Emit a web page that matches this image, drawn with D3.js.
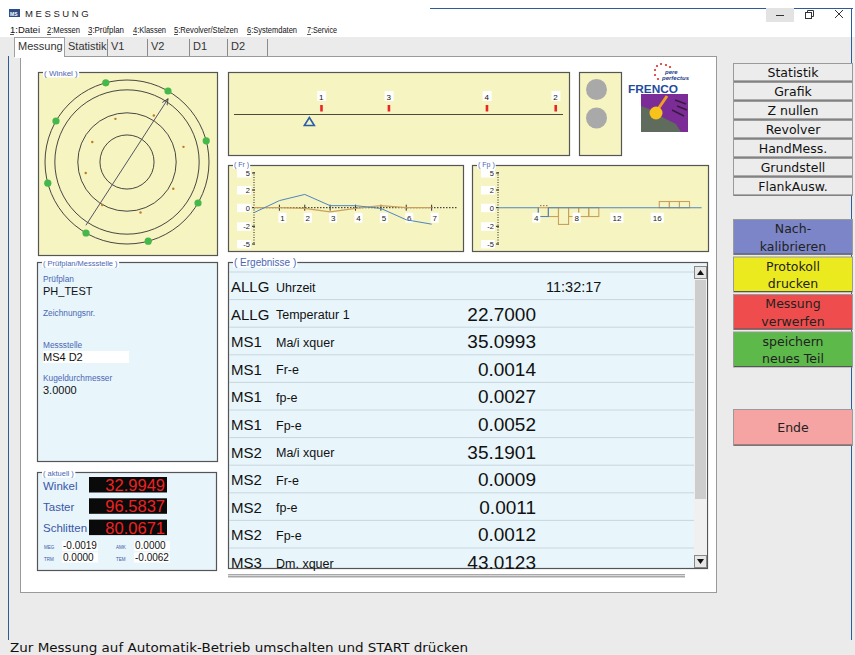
<!DOCTYPE html>
<html>
<head>
<meta charset="utf-8">
<script src="https://cdn.jsdelivr.net/npm/d3@7"></script>
<style>
body { margin: 0; background: #fff; }
svg { display: block; }
</style>
</head>
<body>
<script>
// window chrome
const menuItems = ["1:Datei", "2:Messen", "3:Prüfplan", "4:Klassen", "5:Revolver/Stelzen", "6:Systemdaten", "7:Service"];
const menuX = [10, 47, 88, 133, 174, 247, 307];
const menuW = [30, 33, 36, 33, 64, 50, 30];
const tabs = ["Messung", "Statistik", "V1", "V2", "D1", "D2"];
const tabEdges = [15, 65, 108, 148, 190, 228, 268];
const toolButtons = ["Statistik", "Grafik", "Z nullen", "Revolver", "HandMess.", "Grundstell", "FlankAusw."];
const actionButtons = [["Nach-", "kalibrieren"], ["Protokoll", "drucken"], ["Messung", "verwerfen"], ["speichern", "neues Teil"]];
const actionColors = ["#7b85c7", "#ebea1e", "#ef4d4d", "#5cb94a"];

// Winkel (polar) view
const ringLevels = [33, 60, 88, 100];
const probeAngles = [15, 60, 105, 150, 195, 240, 285, 330];
const probeDev = [11.3, 5.4, -5.5, -11.1, -7.9, 0.5, 3.7, 5.2];
const arrowAngle = 57;

// strip with probe positions
const stripLabels = ["1", "3", "4", "2"];
const stripPos = [26.5, 47, 76.8, 97.7];
const stripMarker = 22.9;

// Fr / Fp charts
const yTicks = [5, 2, 0, -2, -5];
const frX = [0, 1, 2, 3, 4, 5, 6, 7];
const frBlue = [-0.53, 0.8, 1.5, 0.23, 0.23, -0.08, -1.3, -1.77];
const frTan = [0, 0, -0.07, -0.45, -0.07, 0.23, 0, 0];
const fpTicks = [4, 8, 12, 16];
const fpBlueBars = [[4, -0.95]];
const fpTanBars = [[4, -0.95], [5, -0.95], [6, -1.8], [7, -0.95], [8, -0.95], [9, -0.95], [16, 0.7], [17, 0.7], [18, 0.7]];

// Ergebnisse table
const resGroup = ["ALLG", "ALLG", "MS1", "MS1", "MS1", "MS1", "MS2", "MS2", "MS2", "MS2", "MS3"];
const resName = ["Uhrzeit", "Temperatur 1", "Ma/i xquer", "Fr-e", "fp-e", "Fp-e", "Ma/i xquer", "Fr-e", "fp-e", "Fp-e", "Dm. xquer"];
const resValue = ["11:32:17", "22.7000", "35.0993", "0.0014", "0.0027", "0.0052", "35.1901", "0.0009", "0.0011", "0.0012", "43.0123"];

// Prüfplan / aktuell
const pruefLabels = ["Prüfplan", "Zeichnungsnr.", "Messstelle", "Kugeldurchmesser"];
const pruefValues = ["PH_TEST", "", "MS4 D2", "3.0000"];
const aktLabels = ["Winkel", "Taster", "Schlitten"];
const aktValues = ["32.9949", "96.5837", "80.0671"];
const smallLabels = ["MEG", "AMK", "TRM", "TEM"];
const smallValues = ["-0.0019", "0.0000", "0.0000", "-0.0062"];
const statusText = "Zur Messung auf Automatik-Betrieb umschalten und START drücken";

const SANS = "'Liberation Sans', Arial, sans-serif";
const UI = "'DejaVu Sans', Verdana, sans-serif";
const YELLOW = "#f6f4c0";
const LBLUE = "#e8f5fb";
const LEG = "#4a67b4";

const svg = d3.select("body").append("svg")
    .attr("width", 855)
    .attr("height", 655);

// background
svg.append("rect").attr("width", 855).attr("height", 655).attr("fill", "#ebebeb");
svg.append("rect").attr("width", 855).attr("height", 37).attr("fill", "#fff");
svg.append("line").attr("x1", 430).attr("x2", 853).attr("y1", 8.5).attr("y2", 8.5).attr("stroke", "#2c5d9a");
svg.append("line").attr("x1", 8.5).attr("x2", 8.5).attr("y1", 56).attr("y2", 640).attr("stroke", "#2c5d9a");
svg.append("line").attr("x1", 851.5).attr("x2", 851.5).attr("y1", 8).attr("y2", 640).attr("stroke", "#2c5d9a");

// title bar
svg.append("rect").attr("x", 9).attr("y", 9).attr("width", 11).attr("height", 8).attr("fill", "#2d4d8a");
svg.append("text").attr("x", 10).attr("y", 15.5).attr("font-size", 5).attr("fill", "#fff")
    .attr("font-family", SANS).attr("font-weight", "bold").text("MS");
svg.append("text").attr("x", 25).attr("y", 17).attr("font-size", 9.5).attr("letter-spacing", 2.6)
    .attr("font-family", SANS).attr("fill", "#222").text("MESSUNG");
svg.append("rect").attr("x", 766).attr("y", 8).attr("width", 28).attr("height", 14).attr("fill", "#e3e3e3");
svg.append("line").attr("x1", 776).attr("x2", 784).attr("y1", 15.5).attr("y2", 15.5).attr("stroke", "#333");
svg.append("rect").attr("x", 805.5).attr("y", 12.5).attr("width", 6).attr("height", 6).attr("fill", "none").attr("stroke", "#333");
svg.append("path").attr("d", "M807.5,12.5V10.5H813.5V16.5H811.5").attr("fill", "none").attr("stroke", "#333");
svg.append("path").attr("d", "M835,10L843,18M843,10L835,18").attr("stroke", "#333");

// menu
const menuG = svg.append("g");
menuItems.forEach((m, i) => {
    menuG.append("text").attr("x", menuX[i]).attr("y", 33)
        .attr("font-size", 9).attr("font-family", SANS).attr("fill", "#111")
        .attr("textLength", menuW[i]).attr("lengthAdjust", "spacingAndGlyphs")
        .text(m);
    menuG.append("line").attr("x1", menuX[i]).attr("x2", menuX[i] + 4).attr("y1", 34.5).attr("y2", 34.5)
        .attr("stroke", "#111").attr("stroke-width", 0.7);
});

// tabs
const tabG = svg.append("g");
tabG.append("rect").attr("x", 14.5).attr("y", 37.5).attr("width", 50).attr("height", 19).attr("fill", "#fff")
    .attr("stroke", "#a0a0a0");
tabs.forEach((t, i) => {
    if (i > 0) {
        tabG.append("line").attr("x1", tabEdges[i + 1] - 0.5).attr("x2", tabEdges[i + 1] - 0.5)
            .attr("y1", 39).attr("y2", 56).attr("stroke", "#8a8a8a");
    }
    tabG.append("text").attr("x", tabEdges[i] + 3).attr("y", 50)
        .attr("font-size", 11).attr("font-family", SANS).attr("fill", "#333").text(t);
});

// main white panel
svg.append("rect").attr("x", 20.5).attr("y", 56.5).attr("width", 696).attr("height", 536)
    .attr("fill", "#fff").attr("stroke", "#9a9a9a");
svg.append("rect").attr("x", 15).attr("y", 55).attr("width", 49).attr("height", 3).attr("fill", "#fff");

function panel(x, y, w, h, fill, legend, legSize, legY) {
    const g = svg.append("g").attr("transform", `translate(${x},${y})`);
    g.append("rect").attr("x", 0.5).attr("y", 0.5).attr("width", w).attr("height", h)
        .attr("fill", fill).attr("stroke", "#555").attr("stroke-width", 1.2);
    if (legend) {
        const t = g.append("text").attr("x", 6).attr("y", legY == null ? 3.5 : legY)
            .attr("font-size", legSize || 8).attr("font-family", SANS).attr("fill", LEG).text(legend);
        const bb = t.node().getBBox();
        g.insert("rect", "text").attr("x", bb.x - 1).attr("y", bb.y).attr("width", bb.width + 2)
            .attr("height", bb.height).attr("fill", "#fff");
    }
    return g;
}

// ---- Winkel panel ----
const wk = panel(38, 72, 179, 183, YELLOW, "( Winkel )");
const cx = 127 - 38, cy = 162 - 72;
const r = d3.scaleLinear().domain([0, 100]).range([0, 82]);
const polar = (ang, v) => [cx + r(v) * Math.cos(ang * Math.PI / 180), cy - r(v) * Math.sin(ang * Math.PI / 180)];
wk.selectAll("circle.ring").data(ringLevels).join("circle").attr("class", "ring")
    .attr("cx", cx).attr("cy", cy).attr("r", d => r(d))
    .attr("fill", "none").attr("stroke", "#333").attr("stroke-width", 0.9);
wk.append("defs").append("marker").attr("id", "ah").attr("viewBox", "0 0 10 10")
    .attr("refX", 9).attr("refY", 5).attr("markerWidth", 7).attr("markerHeight", 7).attr("orient", "auto")
    .append("path").attr("d", "M0,1L9,5L0,9").attr("fill", "none").attr("stroke", "#444").attr("stroke-width", 1.2);
const a0 = polar(arrowAngle + 180, 92), a1 = polar(arrowAngle, 92);
wk.append("line").attr("x1", a0[0]).attr("y1", a0[1]).attr("x2", a1[0]).attr("y2", a1[1])
    .attr("stroke", "#556").attr("stroke-width", 1).attr("marker-end", "url(#ah)");
wk.selectAll("circle.probe").data(probeAngles).join("circle").attr("class", "probe")
    .attr("cx", d => polar(d, 100)[0]).attr("cy", d => polar(d, 100)[1]).attr("r", 3.6)
    .attr("fill", "#44b84a");
wk.selectAll("circle.dev").data(probeAngles).join("circle").attr("class", "dev")
    .attr("cx", (d, i) => polar(d, 60 + probeDev[i])[0]).attr("cy", (d, i) => polar(d, 60 + probeDev[i])[1])
    .attr("r", 1.2).attr("fill", "#c47a1e");

// ---- strip panel ----
const st = panel(228, 72, 341, 83, YELLOW);
const sx = d3.scaleLinear().domain([0, 100]).range([6, 335]);
st.append("line").attr("x1", sx(0)).attr("x2", sx(100)).attr("y1", 42.5).attr("y2", 42.5)
    .attr("stroke", "#4a4a3a").attr("stroke-width", 1.2);
stripPos.forEach((p, i) => {
    st.append("rect").attr("x", sx(p) - 4).attr("y", 19).attr("width", 9).attr("height", 10).attr("fill", "#fff");
    st.append("text").attr("x", sx(p)).attr("y", 27.5).attr("text-anchor", "middle")
        .attr("font-size", 8).attr("font-family", SANS).attr("fill", "#111").text(stripLabels[i]);
    st.append("rect").attr("x", sx(p) - 1).attr("y", 33).attr("width", 2.6).attr("height", 6.5).attr("fill", "#e8262a");
});
st.append("path").attr("d", `M${sx(stripMarker)},45.5L${sx(stripMarker) + 5},53.5L${sx(stripMarker) - 5},53.5Z`)
    .attr("fill", "none").attr("stroke", "#2a5ea8").attr("stroke-width", 1.6);

// ---- lamp panel ----
const lp = panel(579, 72, 42, 83, YELLOW);
lp.selectAll("circle").data([0, 1]).join("circle")
    .attr("cx", 17.5).attr("cy", d => 17.5 + d * 28.5).attr("r", 10.5).attr("fill", "#a9a9a9");

// ---- logo ----
const lg = svg.append("g");
[[655, 70], [657, 66], [661, 64], [666, 65], [655, 75], [658, 79], [670, 67]].forEach(p =>
    lg.append("circle").attr("cx", p[0]).attr("cy", p[1]).attr("r", 1.1).attr("fill", "#e02a2a"));
lg.append("text").attr("x", 665).attr("y", 74).attr("font-size", 6).attr("font-style", "italic")
    .attr("font-weight", "bold").attr("font-family", SANS).attr("fill", "#233d8c").text("pere");
lg.append("text").attr("x", 662).attr("y", 80).attr("font-size", 6).attr("font-style", "italic")
    .attr("font-weight", "bold").attr("font-family", SANS).attr("fill", "#233d8c").text("perfectus");
lg.append("text").attr("x", 628).attr("y", 93).attr("font-size", 10).attr("font-weight", "bold")
    .attr("textLength", 50).attr("lengthAdjust", "spacingAndGlyphs")
    .attr("font-family", SANS).attr("fill", "#1f4aa0").text("FRENCO");
lg.append("rect").attr("x", 641).attr("y", 94).attr("width", 47).attr("height", 38).attr("fill", "#7b2c96");
lg.append("path").attr("d", "M641,106L652,110L664,118L676,124L681,132L641,132Z").attr("fill", "#5f6b5d");
lg.append("path").attr("d", "M675,100L686,104M677,106L687,110M672,110L684,116").attr("stroke", "#3a1a40").attr("stroke-width", 1.5);
lg.append("line").attr("x1", 656).attr("y1", 112).attr("x2", 667).attr("y2", 96)
    .attr("stroke", "#f0a020").attr("stroke-width", 3);
lg.append("circle").attr("cx", 656).attr("cy", 113).attr("r", 6.5).attr("fill", "#f7c21b");

// ---- Fr / Fp charts ----
const y = d3.scaleLinear().domain([-5, -2, 0, 2, 5]).range([79, 61.3, 42.7, 25, 8]);

function yAxis(g, x0) {
    g.append("line").attr("x1", x0).attr("x2", x0).attr("y1", y(5) - 1).attr("y2", y(-5) + 1)
        .attr("stroke", "#222").attr("stroke-dasharray", "1,1.5");
    yTicks.forEach(t => {
        g.append("rect").attr("x", x0 - 17).attr("y", y(t) - 4).attr("width", 14).attr("height", 8.5).attr("fill", "#fff");
        g.append("line").attr("x1", x0 - 2).attr("x2", x0 + 1).attr("y1", y(t)).attr("y2", y(t)).attr("stroke", "#222");
        g.append("text").attr("x", x0 - 4).attr("y", y(t) + 3).attr("text-anchor", "end")
            .attr("font-size", 7.5).attr("font-family", SANS).attr("fill", "#222").text(t);
    });
}

const fr = panel(228, 165, 235, 86, YELLOW, "( Fr )", 7, 2);
const frx = d3.scaleLinear().domain([0, 8]).range([26, 229]);
yAxis(fr, frx(0));
fr.append("line").attr("x1", frx(0)).attr("x2", frx(8)).attr("y1", y(0)).attr("y2", y(0))
    .attr("stroke", "#222").attr("stroke-dasharray", "1.5,1.5");
frX.slice(1).forEach(d => {
    fr.append("line").attr("x1", frx(d)).attr("x2", frx(d)).attr("y1", y(0) - 3).attr("y2", y(0) + 3).attr("stroke", "#333");
    fr.append("rect").attr("x", frx(d) - 1).attr("y", y(0) + 5).attr("width", 8).attr("height", 10).attr("fill", "#fff");
    fr.append("text").attr("x", frx(d) + 3).attr("y", y(0) + 13).attr("text-anchor", "middle")
        .attr("font-size", 8).attr("font-family", SANS).attr("fill", "#222").text(d);
});
const frLine = d3.line().x((d, i) => frx(frX[i])).y(d => y(d));
fr.append("path").attr("d", frLine(frTan)).attr("fill", "none").attr("stroke", "#c9a05c").attr("stroke-width", 1.2);
fr.append("path").attr("d", frLine(frBlue)).attr("fill", "none").attr("stroke", "#4d86c0").attr("stroke-width", 1);

const fp = panel(472, 165, 236, 86, YELLOW, "( Fp )", 7, 2);
const fpx = d3.scaleLinear().domain([0, 20]).range([26, 227.6]);
yAxis(fp, fpx(0));
fpTanBars.forEach(b => {
    fp.append("rect").attr("x", fpx(b[0])).attr("width", fpx(b[0] + 1) - fpx(b[0]))
        .attr("y", Math.min(y(0), y(b[1]))).attr("height", Math.abs(y(b[1]) - y(0)))
        .attr("fill", "none").attr("stroke", "#c9a05c").attr("stroke-width", 1.1);
});
let bp = `M${fpx(0)},${y(0)}`;
fpBlueBars.forEach(b => {
    bp += `L${fpx(b[0])},${y(0)}L${fpx(b[0])},${y(b[1])}L${fpx(b[0] + 1)},${y(b[1])}L${fpx(b[0] + 1)},${y(0)}`;
});
bp += `L${fpx(20) + 2},${y(0)}`;
fp.append("path").attr("d", bp).attr("fill", "none").attr("stroke", "#4d86c0").attr("stroke-width", 1.1);
fp.append("line").attr("x1", fpx(4) + 2).attr("x2", fpx(5) - 1).attr("y1", y(0) - 2).attr("y2", y(0) - 2)
    .attr("stroke", "#333").attr("stroke-dasharray", "1,2");
fpTicks.forEach(t => {
    const w = String(t).length * 5 + 3;
    fp.append("rect").attr("x", fpx(t) - 2 - w / 2).attr("y", y(0) + 5).attr("width", w).attr("height", 10).attr("fill", "#fff");
    fp.append("text").attr("x", fpx(t) - 2).attr("y", y(0) + 13).attr("text-anchor", "middle")
        .attr("font-size", 8).attr("font-family", SANS).attr("fill", "#222").text(t);
});

// ---- Prüfplan/Messstelle ----
const pp = panel(37, 262, 180, 199, LBLUE, "( Prüfplan/Messstelle )", 7.5);
const pY = [20, 54, 86, 119];
pruefLabels.forEach((l, i) => {
    pp.append("text").attr("x", 6).attr("y", pY[i]).attr("font-size", 8.3).attr("font-family", SANS)
        .attr("fill", LEG).text(l);
    if (i === 2) pp.append("rect").attr("x", 6).attr("y", pY[i] + 3).attr("width", 86).attr("height", 12).attr("fill", "#fff");
    pp.append("text").attr("x", 6).attr("y", pY[i] + 12.5).attr("font-size", 11).attr("font-family", SANS)
        .attr("fill", "#111").text(pruefValues[i]);
});

// ---- aktuell ----
const ak = panel(37, 472, 179, 98, LBLUE, "( aktuell )", 7.5);
aktLabels.forEach((l, i) => {
    const yy = 13 + i * 21.3;
    ak.append("text").attr("x", 6).attr("y", yy + 4.5).attr("font-size", 11.5).attr("font-family", SANS)
        .attr("fill", "#3b57a8").text(l);
    ak.append("rect").attr("x", 52).attr("y", yy - 8).attr("width", 78).attr("height", 15.5).attr("fill", "#0a0a0a");
    ak.append("text").attr("x", 128).attr("y", yy + 6).attr("text-anchor", "end").attr("font-size", 16.5)
        .attr("font-family", SANS).attr("fill", "#ee2222").text(aktValues[i]);
});
smallLabels.forEach((l, i) => {
    const col = i % 2, row = Math.floor(i / 2);
    const bx = 7 + col * 72, by = 77 + row * 11.5;
    ak.append("text").attr("x", bx).attr("y", by).attr("font-size", 4.5).attr("font-family", SANS)
        .attr("fill", "#3b57a8").text(l);
    ak.append("rect").attr("x", bx + 18).attr("y", by - 8).attr("width", 36).attr("height", 10).attr("fill", "#fff");
    ak.append("text").attr("x", bx + 19).attr("y", by).attr("font-size", 10).attr("font-family", SANS)
        .attr("fill", "#111").text(smallValues[i]);
});

// ---- Ergebnisse ----
const er = panel(228, 262, 479, 306, LBLUE, "( Ergebnisse )", 10);
const rowY = d3.scaleBand().domain(d3.range(resGroup.length)).range([10, 10 + 27.6 * resGroup.length]);
const rows = er.selectAll("g.row").data(resGroup).join("g").attr("class", "row")
    .attr("transform", (d, i) => `translate(0,${rowY(i)})`);
rows.append("line").attr("x1", 1).attr("x2", 466).attr("y1", 0).attr("y2", 0).attr("stroke", "#c8d6de").attr("stroke-width", 1);
rows.append("text").attr("x", 3).attr("y", 20).attr("font-size", 15).attr("font-family", SANS).attr("fill", "#111").text(d => d);
rows.append("text").attr("x", 48).attr("y", 19.5).attr("font-size", 12.5).attr("font-family", SANS).attr("fill", "#111")
    .text((d, i) => resName[i]);
rows.append("text")
    .attr("x", (d, i) => i === 0 ? 318 : 308)
    .attr("y", (d, i) => i === 0 ? 19.5 : 21)
    .attr("font-size", (d, i) => i === 0 ? 14.5 : 19)
    .attr("text-anchor", (d, i) => i === 0 ? "start" : "end")
    .attr("font-family", SANS).attr("fill", "#111")
    .text((d, i) => resValue[i]);
// vertical scrollbar
const sb = er.append("g").attr("transform", "translate(466,4)");
sb.append("rect").attr("width", 13).attr("height", 302).attr("fill", "#f0f0f0");
sb.append("rect").attr("x", 1).attr("y", 14).attr("width", 11).attr("height", 219).attr("fill", "#cdcdcd");
sb.append("rect").attr("x", 0.5).attr("y", 0.5).attr("width", 12).attr("height", 12).attr("fill", "#e6e6e6").attr("stroke", "#888");
sb.append("rect").attr("x", 0.5).attr("y", 289.5).attr("width", 12).attr("height", 12).attr("fill", "#e6e6e6").attr("stroke", "#888");
sb.append("path").attr("d", "M3,9L10,9L6.5,4Z").attr("fill", "#111");
sb.append("path").attr("d", "M3,293L10,293L6.5,298Z").attr("fill", "#111");
svg.append("rect").attr("x", 228).attr("y", 574).attr("width", 457).attr("height", 3.5).attr("fill", "#a8a8a8");
svg.append("line").attr("x1", 228).attr("x2", 685).attr("y1", 575.5).attr("y2", 575.5).attr("stroke", "#d8d8d8");

// ---- right-hand buttons ----
const btnG = svg.append("g");
toolButtons.forEach((b, i) => {
    const by = 63 + i * 19;
    btnG.append("rect").attr("x", 733.5).attr("y", by + 0.5).attr("width", 119).attr("height", 18)
        .attr("fill", "#ececec").attr("stroke", "#9a9a9a");
    btnG.append("line").attr("x1", 734).attr("x2", 852).attr("y1", by + 18).attr("y2", by + 18).attr("stroke", "#6a6a6a");
    btnG.append("text").attr("x", 793).attr("y", by + 14).attr("text-anchor", "middle")
        .attr("font-size", 12.5).attr("font-family", UI).attr("fill", "#111").text(b);
});
actionButtons.forEach((lines, i) => {
    const by = 219 + i * 37.5;
    btnG.append("rect").attr("x", 733.5).attr("y", by + 0.5).attr("width", 119).attr("height", 35)
        .attr("fill", actionColors[i]).attr("stroke", "#9a9a9a");
    btnG.append("line").attr("x1", 734).attr("x2", 852).attr("y1", by + 35).attr("y2", by + 35).attr("stroke", "#555");
    lines.forEach((t, j) => btnG.append("text").attr("x", 793).attr("y", by + 14 + j * 17.5).attr("text-anchor", "middle")
        .attr("font-size", 12.5).attr("font-family", UI).attr("fill", "#222").text(t));
});
btnG.append("rect").attr("x", 733.5).attr("y", 409.5).attr("width", 119).attr("height", 36)
    .attr("fill", "#f5a3a3").attr("stroke", "#9a9a9a");
btnG.append("line").attr("x1", 734).attr("x2", 852).attr("y1", 445).attr("y2", 445).attr("stroke", "#555");
btnG.append("text").attr("x", 793).attr("y", 432).attr("text-anchor", "middle")
    .attr("font-size", 12.5).attr("font-family", UI).attr("fill", "#222").text("Ende");

// ---- status bar ----
svg.append("text").attr("x", 10).attr("y", 652).attr("font-size", 13).attr("font-family", UI)
    .attr("textLength", 458).attr("lengthAdjust", "spacingAndGlyphs").attr("fill", "#111").text(statusText);
</script>
</body>
</html>
